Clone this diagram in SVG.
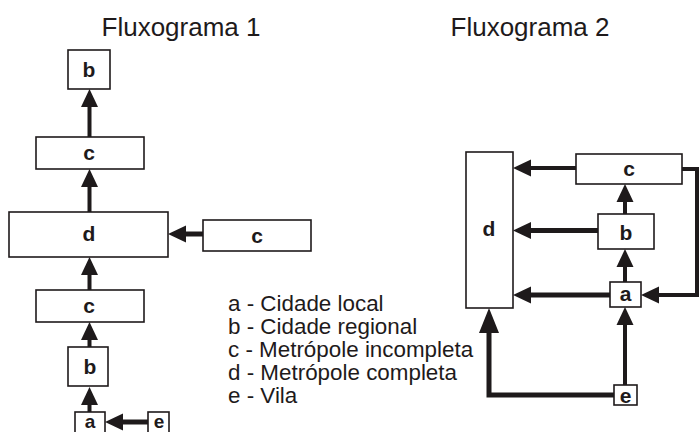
<svg xmlns="http://www.w3.org/2000/svg" width="699" height="432" viewBox="0 0 699 432">
<style>
.box{fill:#fff;stroke:#1e1a1b;stroke-width:1.6}
.lbl{font-family:"Liberation Sans",Arial,sans-serif;font-weight:bold;font-size:21px;fill:#1e1a1b;text-anchor:middle}
.ttl{font-family:"Liberation Sans",Arial,sans-serif;font-size:26px;fill:#1e1a1b;text-anchor:middle}
.leg{font-family:"Liberation Sans",Arial,sans-serif;font-size:22.4px;fill:#1e1a1b}
.ln{fill:none;stroke:#1e1a1b;stroke-width:4;marker-end:url(#ah)}
.thick{stroke-width:5}
</style>
<defs>
<marker id="ah" markerUnits="userSpaceOnUse" markerWidth="19" markerHeight="18" refX="0" refY="8.5" orient="auto" overflow="visible">
<path d="M0,0 L18,8.5 L0,17 Z" fill="#1e1a1b"/>
</marker>
<marker id="ahL" markerUnits="userSpaceOnUse" markerWidth="26" markerHeight="21" refX="0" refY="10" orient="auto" overflow="visible">
<path d="M0,0 L25,10 L0,20 Z" fill="#1e1a1b"/>
</marker>
</defs>
<rect width="699" height="432" fill="#fff"/>
<text class="ttl" x="181" y="36">Fluxograma 1</text>
<text class="ttl" x="530" y="36">Fluxograma 2</text>
<g id="connectors">
<line class="ln" x1="89.5" y1="137" x2="89.5" y2="107"/>
<line class="ln" x1="89.5" y1="212" x2="89.5" y2="187"/>
<line class="ln" x1="89.5" y1="290" x2="89.5" y2="275"/>
<line class="ln" x1="89.5" y1="347" x2="89.5" y2="340"/>
<line class="ln" x1="89.5" y1="412" x2="89.5" y2="405"/>
<line class="ln thick" x1="203" y1="234" x2="186" y2="234"/>
<line class="ln thick" x1="148" y1="422" x2="123" y2="422"/>
<line class="ln" x1="576" y1="168" x2="531" y2="168"/>
<line class="ln thick" x1="598" y1="230.5" x2="531" y2="230.5"/>
<line class="ln thick" x1="610" y1="295" x2="531" y2="295"/>
<line class="ln" x1="625" y1="214" x2="625" y2="202"/>
<line class="ln" x1="625" y1="282" x2="625" y2="267"/>
<line class="ln" x1="625" y1="385" x2="625" y2="325"/>
<path class="ln thick" d="M614,395 L489,395 L489,333" style="marker-end:url(#ahL)"/>
<path class="ln" d="M682,169 L697,169 L697,295 L659,295"/>
</g>
<g id="f1-b"><rect class="box" x="68" y="50" width="42" height="39"/><text class="lbl" x="89" y="77">b</text></g>
<g id="f1-c1"><rect class="box" x="36" y="137" width="108" height="32"/><text class="lbl" x="89" y="160">c</text></g>
<g id="f1-d"><rect class="box" x="9" y="212" width="159" height="45"/><text class="lbl" x="89" y="241">d</text></g>
<g id="f1-c3"><rect class="box" x="203" y="220" width="108" height="31"/><text class="lbl" x="257" y="243">c</text></g>
<g id="f1-c2"><rect class="box" x="36" y="290" width="108" height="32"/><text class="lbl" x="89" y="313">c</text></g>
<g id="f1-b2"><rect class="box" x="68" y="347" width="40" height="39"/><text class="lbl" x="90" y="374">b</text></g>
<g id="f1-a"><rect class="box" x="75" y="412" width="30" height="30"/><text class="lbl" x="90" y="428" style="font-size:19px">a</text></g>
<g id="f1-e"><rect class="box" x="148" y="412" width="21" height="30"/><text class="lbl" x="159" y="428" style="font-size:19px">e</text></g>
<g id="f2-d"><rect class="box" x="466" y="152" width="47" height="156"/><text class="lbl" x="489" y="236">d</text></g>
<g id="f2-c"><rect class="box" x="576" y="154" width="106" height="30"/><text class="lbl" x="629" y="176">c</text></g>
<g id="f2-b"><rect class="box" x="598" y="214" width="56" height="35"/><text class="lbl" x="626" y="240">b</text></g>
<g id="f2-a"><rect class="box" x="610" y="282" width="31" height="25"/><text class="lbl" x="625.5" y="301">a</text></g>
<g id="f2-e"><rect class="box" x="614" y="385" width="23" height="20"/><text class="lbl" x="625.5" y="403">e</text></g>
<g id="legend">
<text class="leg" x="228" y="311">a - Cidade local</text>
<text class="leg" x="228" y="334">b - Cidade regional</text>
<text class="leg" x="228" y="357">c - Metrópole incompleta</text>
<text class="leg" x="228" y="380">d - Metrópole completa</text>
<text class="leg" x="228" y="403">e - Vila</text>
</g>
</svg>
